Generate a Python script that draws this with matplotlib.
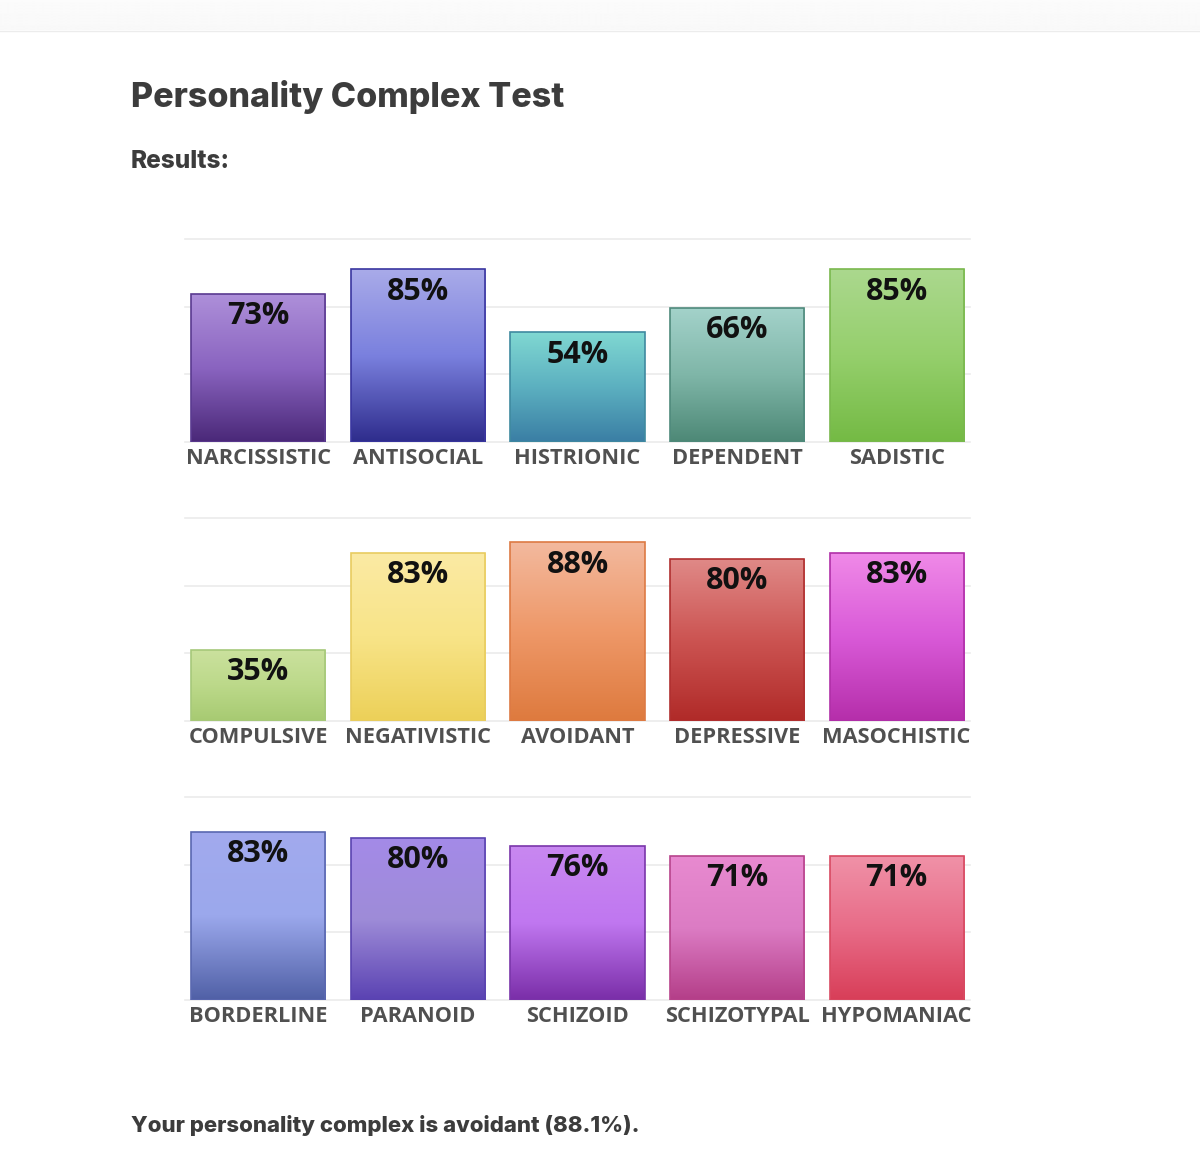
import numpy as np
import matplotlib
matplotlib.use("Agg")
import matplotlib.pyplot as plt
from matplotlib.colors import LinearSegmentedColormap
from matplotlib.patches import Rectangle

# three rows of five scales each
row_names = [
    ["NARCISSISTIC", "ANTISOCIAL", "HISTRIONIC", "DEPENDENT", "SADISTIC"],
    ["COMPULSIVE", "NEGATIVISTIC", "AVOIDANT", "DEPRESSIVE", "MASOCHISTIC"],
    ["BORDERLINE", "PARANOID", "SCHIZOID", "SCHIZOTYPAL", "HYPOMANIAC"],
]
row_values = [
    [73, 85, 54, 66, 85],
    [35, 83, 88, 80, 83],
    [83, 80, 76, 71, 71],
]
# gradient stops (top, middle, bottom) for every bar
row_colors = [
    [("#ae90da", "#8a64c0", "#4a2878"),
     ("#a9abe9", "#7a80de", "#2e2c8c"),
     ("#80d8d2", "#5cb0c0", "#3a7ea4"),
     ("#a3d2ca", "#7fb6a8", "#4d8876"),
     ("#abd88e", "#95cf6c", "#74ba44")],
    [("#cbe19e", "#bcd98a", "#a7ca72"),
     ("#fbeaa4", "#f8e488", "#ecd058"),
     ("#f3b99e", "#ee9868", "#de7a3e"),
     ("#e08a88", "#cc5452", "#b02a28"),
     ("#f08ae8", "#d95ad8", "#b52eaa")],
    [("#a2aaee", "#9ba8ec", "#5060a6"),
     ("#a48ae8", "#9e8cd8", "#5a42b2"),
     ("#c888f0", "#c077f0", "#7a2ea8"),
     ("#e88ad0", "#dc7cc4", "#b43e88"),
     ("#f092a8", "#e86c88", "#d83e58")],
]
edge_colors = [
    ["#5a3a90", "#3a36a0", "#3f8aa0", "#4f8a7c", "#7ab84e"],
    ["#a6c87a", "#e8cc60", "#dd7a44", "#b03030", "#b030a8"],
    ["#5a68b0", "#5a44b0", "#7a36aa", "#b8448c", "#d84a62"],
]
footer_text = "Your personality complex is avoidant (88.1%)."

W, H = 1200, 1160
fig = plt.figure(figsize=(W / 100, H / 100), dpi=100)
fig.patch.set_facecolor("white")

# light header strip at the top
hdr = fig.add_axes([0, 1 - 30 / H, 1, 30 / H])
hdr.imshow(np.linspace(0.985, 0.975, 50).reshape(-1, 1) * np.ones((1, 2)),
           cmap="gray", vmin=0, vmax=1, aspect="auto", extent=(0, 1, 0, 1))
hdr.axis("off")
fig.add_artist(plt.Line2D([0, 1], [1 - 31 / H, 1 - 31 / H], color="#ececec", lw=1))

fig.text(131 / W, 1 - 97 / H, "Personality Complex Test", fontsize=24.5, fontweight="heavy",
         family="Inter", color="#3c3c3c", va="center", ha="left")
fig.text(131 / W, 1 - 162 / H, "Results:", fontsize=17.5, fontweight="heavy",
         family="Inter", color="#3c3c3c", va="center", ha="left")
fig.text(131 / W, 1 - 1125 / H, footer_text, fontsize=16, fontweight="heavy",
         family="Inter", color="#3c3c3c", va="center", ha="left")

baselines = [442, 721, 1000]
ax_h = 203
bar_w = 0.84

for r in range(3):
    ax = fig.add_axes([185 / W, 1 - baselines[r] / H, 785 / W, ax_h / H])
    ax.set_xlim(-0.46, 4.46)
    ax.set_ylim(0, 100)
    for s in ax.spines.values():
        s.set_visible(False)
    for g in [0, 100 / 3, 200 / 3, 100]:
        ax.axhline(g, color="#ebebeb", lw=1.2, zorder=0, clip_on=False)
    ax.set_yticks([])
    ax.set_xticks(range(5))
    ax.set_xticklabels(row_names[r], fontsize=15.7, fontweight="bold",
                       family="Open Sans", color="#505050")
    ax.tick_params(axis="x", length=0, pad=4)

    bars = ax.bar(range(5), row_values[r], width=bar_w, color="none",
                  edgecolor=[edge_colors[r][i] for i in range(5)], lw=1.2, zorder=3)
    for i, b in enumerate(bars):
        cmap = LinearSegmentedColormap.from_list("g", list(row_colors[r][i])[::-1])
        x0 = b.get_x()
        h = b.get_height()
        grad = np.linspace(0, 1, 256).reshape(-1, 1)
        im = ax.imshow(grad, cmap=cmap, aspect="auto", origin="lower",
                       extent=(x0, x0 + bar_w, 0, h), zorder=2)
        clip = Rectangle((x0, 0), bar_w, h, transform=ax.transData)
        im.set_clip_path(clip)
        ax.annotate(f"{row_values[r][i]}%", (i, h), xytext=(0, -16),
                    textcoords="offset points", ha="center", va="center",
                    fontsize=22, fontweight="bold", family="Open Sans",
                    color="#111111", zorder=4)
    ax.set_xlim(-0.46, 4.46)
    ax.set_ylim(0, 100)

fig.savefig("out.png", dpi=100, facecolor="white")
